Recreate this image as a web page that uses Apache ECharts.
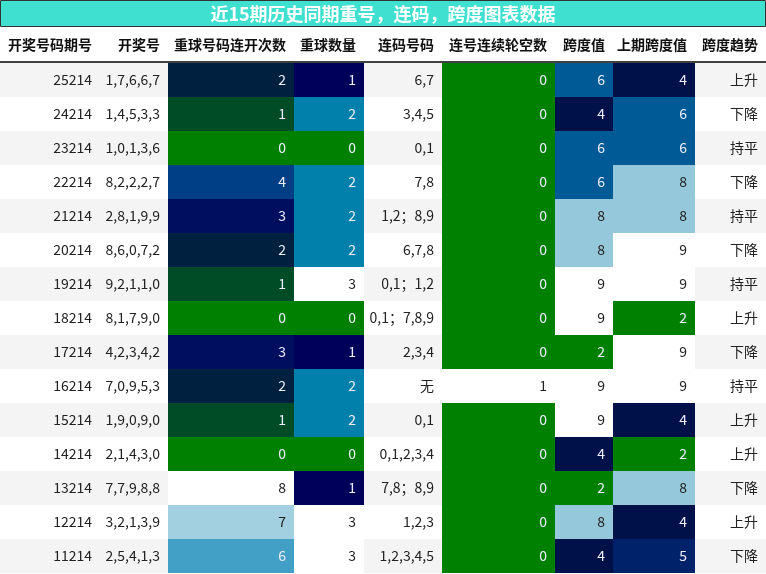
<!DOCTYPE html>
<html>
<head>
<meta charset="utf-8" />
<script src="https://cdn.jsdelivr.net/npm/echarts@6/dist/echarts.min.js"></script>
<style>body{margin:0}</style>
</head>
<body>
<div id="main" style="width:766px;height:574px;"></div>
<script>
var titleText = '近15期历史同期重号，连码，跨度图表数据';
var headers = ['开奖号码期号', '开奖号', '重球号码连开次数', '重球数量', '连码号码', '连号连续轮空数', '跨度值', '上期跨度值', '跨度趋势'];
var issues = ['25214','24214','23214','22214','21214','20214','19214','18214','17214','16214','15214','14214','13214','12214','11214'];
var draws = ['1,7,6,6,7','1,4,5,3,3','1,0,1,3,6','8,2,2,2,7','2,8,1,9,9','8,6,0,7,2','9,2,1,1,0','8,1,7,9,0','4,2,3,4,2','7,0,9,5,3','1,9,0,9,0','2,1,4,3,0','7,7,9,8,8','3,2,1,3,9','2,5,4,1,3'];
var repeatTimes = [2,1,0,4,3,2,1,0,3,2,1,0,8,7,6];
var repeatCount = [1,2,0,2,2,2,3,0,1,2,2,0,1,3,3];
var seqNums = ['6,7','3,4,5','0,1','7,8','1,2；8,9','6,7,8','0,1；1,2','0,1；7,8,9','2,3,4','无','0,1','0,1,2,3,4','7,8；8,9','1,2,3','1,2,3,4,5'];
var seqGap = [0,0,0,0,0,0,0,0,0,1,0,0,0,0,0];
var span = [6,4,6,6,8,8,9,9,2,9,9,4,2,8,4];
var prevSpan = [4,6,6,8,8,9,9,2,9,9,4,2,8,4,5];
var trend = ['上升','下降','持平','下降','持平','下降','持平','上升','下降','持平','上升','上升','下降','上升','下降'];

// layout
var colEdges = [0,100,168,294,364,442,555,613,695,766];
var tableTop = 63, rowH = 34, headTop = 27;
var green = '#008000';
var colorMaps = {
  2: {0:green,1:'#004c26',2:'#002040',3:'#000e60',4:'#003f86',6:'#42a0c6',7:'#a2d0e0',8:'#ffffff'},
  3: {0:green,1:'#00005a',2:'#0080aa',3:'#ffffff'},
  5: {0:green,1:'#ffffff'},
  6: {2:green,4:'#001048',5:'#00226a',6:'#005a96',8:'#96c8dc',9:'#ffffff'},
  7: {2:green,4:'#001048',5:'#00226a',6:'#005a96',8:'#96c8dc',9:'#ffffff'}
};
var columns = [issues, draws, repeatTimes, repeatCount, seqNums, seqGap, span, prevSpan, trend];

var cells = [];
for (var r = 0; r < issues.length; r++) {
  for (var c = 0; c < columns.length; c++) {
    cells.push([c, r, String(columns[c][r])]);
  }
}

function isDark(hex) {
  var n = parseInt(hex.slice(1), 16);
  var l = 0.299 * (n >> 16) + 0.587 * ((n >> 8) & 255) + 0.114 * (n & 255);
  return l < 150;
}

var myChart = echarts.init(document.getElementById('main'));
myChart.setOption({
  animation: false,
  grid: {left: 0, right: 0, top: 0, bottom: 0},
  xAxis: {type: 'value', min: 0, max: 766, show: false},
  yAxis: {type: 'value', min: 0, max: 574, inverse: true, show: false},
  graphic: [
    {type: 'rect', shape: {x: 0.5, y: 0.5, width: 765, height: 26}, style: {fill: '#40e0d0', stroke: '#333', lineWidth: 1}},
    {type: 'text', x: 383, y: 14, style: {text: titleText, fill: '#fff', font: 'bold 18px "Noto Sans CJK SC"', align: 'center', verticalAlign: 'middle'}},
    {type: 'line', shape: {x1: 0, y1: 62, x2: 766, y2: 62}, style: {stroke: '#000', lineWidth: 1.5}}
  ],
  series: [{
    type: 'custom',
    data: headers.map(function (h, i) { return [i, h]; }),
    renderItem: function (params, api) {
      var i = api.value(0);
      var p1 = api.coord([colEdges[i], headTop]);
      var p2 = api.coord([colEdges[i + 1], tableTop]);
      return {type: 'text', style: {text: headers[i], x: p2[0] - 8, y: (p1[1] + p2[1]) / 2,
        align: 'right', verticalAlign: 'middle', fill: '#111', font: 'bold 14px "Noto Sans CJK SC"'}};
    }
  }, {
    type: 'custom',
    data: cells,
    encode: {x: 0, y: 1},
    renderItem: function (params, api) {
      var c = api.value(0), r = api.value(1);
      var txt = cells[params.dataIndex][2];
      var bg = r % 2 === 0 ? '#f4f4f4' : '#ffffff';
      if (colorMaps[c] && colorMaps[c][+txt] !== undefined) bg = colorMaps[c][+txt];
      var p1 = api.coord([colEdges[c], tableTop + r * rowH]);
      var p2 = api.coord([colEdges[c + 1], tableTop + (r + 1) * rowH]);
      var dark = isDark(bg);
      return {type: 'group', children: [
        {type: 'rect', shape: {x: p1[0], y: p1[1], width: p2[0] - p1[0], height: p2[1] - p1[1]}, style: {fill: bg}},
        {type: 'text', style: {text: txt, x: p2[0] - 8, y: (p1[1] + p2[1]) / 2, align: 'right', verticalAlign: 'middle',
          fill: dark ? '#eef' : '#222', font: '14px "Noto Sans CJK SC"'}}
      ]};
    }
  }]
});
</script>
</body>
</html>
